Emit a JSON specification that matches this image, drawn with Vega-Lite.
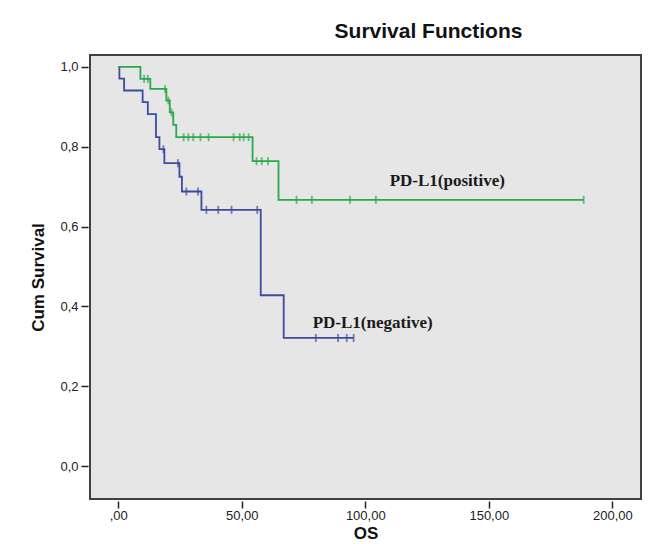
{
  "$schema": "https://vega.github.io/schema/vega-lite/v6.json",
  "width": 551,
  "height": 444,
  "autosize": "none",
  "padding": {"left": 90, "top": 55, "right": 20, "bottom": 45},
  "background": "white",
  "title": {
    "text": "Survival Functions",
    "font": "Liberation Sans",
    "fontWeight": "bold",
    "fontSize": 21,
    "color": "#111",
    "anchor": "middle",
    "dx": 63,
    "offset": 13
  },
  "config": {
    "view": {"fill": "#e6e6e6", "stroke": "#404040", "strokeWidth": 2},
    "axis": {
      "grid": false,
      "domain": false,
      "labelFont": "Liberation Sans",
      "labelFontSize": 13,
      "labelColor": "#222",
      "labelPadding": 2,
      "tickColor": "#222",
      "tickSize": 7,
      "tickWidth": 1.5,
      "offset": 2,
      "titleFont": "Liberation Sans",
      "titleFontWeight": "bold",
      "titleColor": "#111"
    }
  },
  "datasets": {
    "steps": [
      {"group": "negative", "t": 0, "s": 1.0},
      {"group": "negative", "t": 0.5, "s": 0.971},
      {"group": "negative", "t": 2.4, "s": 0.941},
      {"group": "negative", "t": 9.9, "s": 0.912},
      {"group": "negative", "t": 12, "s": 0.882},
      {"group": "negative", "t": 15.3, "s": 0.824},
      {"group": "negative", "t": 16.7, "s": 0.794},
      {"group": "negative", "t": 18.7, "s": 0.759},
      {"group": "negative", "t": 24.8, "s": 0.725},
      {"group": "negative", "t": 25.8, "s": 0.688},
      {"group": "negative", "t": 33.7, "s": 0.642},
      {"group": "negative", "t": 57.7, "s": 0.428},
      {"group": "negative", "t": 67, "s": 0.321},
      {"group": "negative", "t": 95.3, "s": 0.321},
      {"group": "positive", "t": 0, "s": 1.0},
      {"group": "positive", "t": 9.0, "s": 0.97},
      {"group": "positive", "t": 13.0, "s": 0.945},
      {"group": "positive", "t": 19.5, "s": 0.916},
      {"group": "positive", "t": 20.9, "s": 0.886},
      {"group": "positive", "t": 22.3, "s": 0.855},
      {"group": "positive", "t": 23.5, "s": 0.824},
      {"group": "positive", "t": 54.4, "s": 0.764},
      {"group": "positive", "t": 64.9, "s": 0.667},
      {"group": "positive", "t": 188.4, "s": 0.667}
    ],
    "censored": [
      {"group": "negative", "t": 18.3, "s": 0.794},
      {"group": "negative", "t": 24.2, "s": 0.759},
      {"group": "negative", "t": 27.6, "s": 0.688},
      {"group": "negative", "t": 32.3, "s": 0.688},
      {"group": "negative", "t": 35.7, "s": 0.642},
      {"group": "negative", "t": 40.5, "s": 0.642},
      {"group": "negative", "t": 45.9, "s": 0.642},
      {"group": "negative", "t": 56.3, "s": 0.642},
      {"group": "negative", "t": 80, "s": 0.321},
      {"group": "negative", "t": 89, "s": 0.321},
      {"group": "negative", "t": 92.5, "s": 0.321},
      {"group": "negative", "t": 95.3, "s": 0.321},
      {"group": "positive", "t": 10.5, "s": 0.97},
      {"group": "positive", "t": 12.0, "s": 0.97},
      {"group": "positive", "t": 19.0, "s": 0.945},
      {"group": "positive", "t": 20.3, "s": 0.916},
      {"group": "positive", "t": 21.6, "s": 0.886},
      {"group": "positive", "t": 26.5, "s": 0.824},
      {"group": "positive", "t": 28.4, "s": 0.824},
      {"group": "positive", "t": 30.4, "s": 0.824},
      {"group": "positive", "t": 33.3, "s": 0.824},
      {"group": "positive", "t": 36.6, "s": 0.824},
      {"group": "positive", "t": 46.7, "s": 0.824},
      {"group": "positive", "t": 49.2, "s": 0.824},
      {"group": "positive", "t": 50.8, "s": 0.824},
      {"group": "positive", "t": 52.8, "s": 0.824},
      {"group": "positive", "t": 56.0, "s": 0.764},
      {"group": "positive", "t": 58.1, "s": 0.764},
      {"group": "positive", "t": 60.6, "s": 0.764},
      {"group": "positive", "t": 72.2, "s": 0.667},
      {"group": "positive", "t": 78.4, "s": 0.667},
      {"group": "positive", "t": 93.8, "s": 0.667},
      {"group": "positive", "t": 104.3, "s": 0.667},
      {"group": "positive", "t": 188.4, "s": 0.667}
    ],
    "labels": [
      {"group": "positive", "label": "PD-L1(positive)", "t": 133.2, "s": 0.714},
      {"group": "negative", "label": "PD-L1(negative)", "t": 103, "s": 0.358}
    ]
  },
  "encoding": {
    "x": {
      "field": "t",
      "type": "quantitative",
      "title": "OS",
      "scale": {"domain": [-11.4, 211.6], "nice": false, "zero": false},
      "axis": {
        "values": [0, 50, 100, 150, 200],
        "labelExpr": "datum.value == 0 ? ',00' : replace(format(datum.value, '.2f'), '.', ',')",
        "labelPadding": 1,
        "titleFontSize": 17,
        "titlePadding": 3
      }
    },
    "y": {
      "field": "s",
      "type": "quantitative",
      "title": "Cum Survival",
      "scale": {"domain": [-0.0825, 1.03], "nice": false, "zero": false},
      "axis": {
        "values": [0, 0.2, 0.4, 0.6, 0.8, 1.0],
        "labelExpr": "replace(format(datum.value, '.1f'), '.', ',')",
        "labelPadding": 3,
        "titleFontSize": 17,
        "titlePadding": 12
      }
    },
    "color": {
      "field": "group",
      "type": "nominal",
      "scale": {"domain": ["negative", "positive"], "range": ["#3c4c9e", "#2aa84a"]},
      "legend": null
    }
  },
  "layer": [
    {
      "data": {"name": "steps"},
      "mark": {"type": "line", "interpolate": "step-after", "strokeWidth": 1.8},
      "encoding": {"detail": {"field": "group"}}
    },
    {
      "data": {"name": "censored"},
      "mark": {"type": "tick", "orient": "vertical", "size": 8, "thickness": 1.8}
    },
    {
      "data": {"name": "labels"},
      "mark": {"type": "text", "font": "Liberation Serif", "fontWeight": "bold", "fontSize": 17, "color": "#1a1a1a"},
      "encoding": {"text": {"field": "label"}, "color": {"value": "#1a1a1a"}}
    }
  ]
}
